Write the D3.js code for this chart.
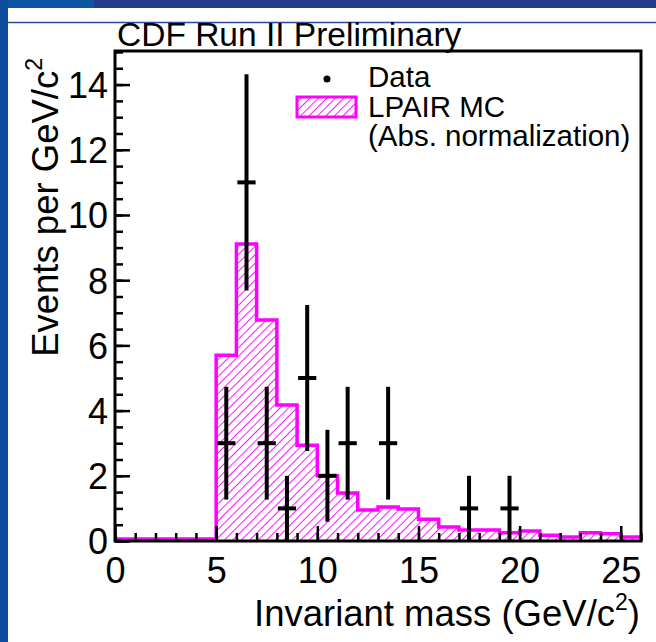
<!DOCTYPE html>
<html>
<head>
<meta charset="utf-8">
<script src="https://cdn.jsdelivr.net/npm/d3@7"></script>
<style>
	body { margin: 0; background: #ffffff; }
	svg text { font-family: "Liberation Sans", Arial, sans-serif; fill: #000; }
</style>
</head>
<body>
<div id="svg-container"></div>
<script>
// LPAIR MC histogram, 1 GeV bins from 0 to 26
var binEdges = d3.range(0, 27, 1);
var mcValues = [0.06, 0.06, 0.06, 0.06, 0.06, 5.7, 9.11, 6.78, 4.17, 2.94, 2.0, 1.47, 0.95, 1.04, 0.98,
	0.67, 0.43, 0.34, 0.34, 0.25, 0.31, 0.18, 0.12, 0.25, 0.22, 0.12];

// data points (bin centres) with errors
var dataMass = [5.5, 6.5, 7.5, 8.5, 9.5, 10.5, 11.5, 13.5, 17.5, 19.5];
var dataEvents = [3, 11, 3, 1, 5, 2, 3, 3, 1, 1];
var dataErr = [1.73, 3.32, 1.73, 1.0, 2.24, 1.41, 1.73, 1.73, 1.0, 1.0];

var xTicks = [0, 5, 10, 15, 20, 25];
var yTicks = [0, 2, 4, 6, 8, 10, 12, 14];

var W = 656, H = 642;
// plot area (window.top is reserved, so no plain "top")
var pL = 115, pR = 641, pT = 51, pB = 541;
var magenta = "#ff00ff";

var svg = d3.select("#svg-container").append("svg")
	.attr("width", W)
	.attr("height", H);

// slide background bits
svg.append("rect").attr("x", 0).attr("y", 0).attr("width", W).attr("height", 8).attr("fill", "#253c8e");
svg.append("rect").attr("x", 0).attr("y", 0).attr("width", 94).attr("height", 8).attr("fill", "#0b55a3");
svg.append("rect").attr("x", 0).attr("y", 0).attr("width", 8).attr("height", H).attr("fill", "#0d4c9c");
svg.append("line").attr("x1", 8).attr("x2", W).attr("y1", 22.5).attr("y2", 22.5)
	.attr("stroke", "#2a4a9a").attr("stroke-width", 1.5);

var defs = svg.append("defs");
var pat = defs.append("pattern")
	.attr("id", "hatch")
	.attr("patternUnits", "userSpaceOnUse")
	.attr("width", 6).attr("height", 6)
	.attr("patternTransform", "rotate(45)");
pat.append("rect").attr("width", 6).attr("height", 6).attr("fill", "#fff");
pat.append("line").attr("x1", 0).attr("y1", 0).attr("x2", 0).attr("y2", 6)
	.attr("stroke", magenta).attr("stroke-width", 1.8);

defs.append("clipPath").attr("id", "plotclip")
	.append("rect").attr("x", pL).attr("y", pT).attr("width", pR - pL).attr("height", pB - pT);

var x = d3.scaleLinear().domain([0, 26]).range([pL, pR]);
var y = d3.scaleLinear().domain([0, 15.03]).range([pB, pT]);

// histogram as step area
var pts = mcValues.map(function(v, i){ return [binEdges[i], v]; });
pts.push([binEdges[binEdges.length - 1], mcValues[mcValues.length - 1]]);

var area = d3.area()
	.curve(d3.curveStepAfter)
	.x(function(d){ return x(d[0]); })
	.y0(y(0))
	.y1(function(d){ return y(d[1]); });
var line = d3.line()
	.curve(d3.curveStepAfter)
	.x(function(d){ return x(d[0]); })
	.y(function(d){ return y(d[1]); });

var plot = svg.append("g").attr("clip-path", "url(#plotclip)");
plot.append("path").datum(pts).attr("d", area).attr("fill", "url(#hatch)");
plot.append("path").datum(pts).attr("d", line)
	.attr("fill", "none").attr("stroke", magenta).attr("stroke-width", 3.5);

// axes: minor then major ticks, inward
function yAxis(vals, size, labels) {
	var ax = d3.axisLeft(y).tickValues(vals).tickSizeInner(-size).tickSizeOuter(0).tickPadding(size + 8);
	if (!labels) ax.tickFormat("");
	var g = svg.append("g").attr("transform", "translate(" + pL + ",0)").call(ax);
	g.select(".domain").remove();
	g.selectAll("line").attr("stroke", "#000").attr("stroke-width", 2.5);
	g.selectAll("text").style("font-size", "36px").attr("font-family", null);
	return g;
}
function xAxis(vals, size, labels) {
	var ax = d3.axisBottom(x).tickValues(vals).tickSizeInner(-size).tickSizeOuter(0).tickPadding(size + 2);
	if (!labels) ax.tickFormat("");
	var g = svg.append("g").attr("transform", "translate(0," + pB + ")").call(ax);
	g.select(".domain").remove();
	g.selectAll("line").attr("stroke", "#000").attr("stroke-width", 2.5);
	g.selectAll("text").style("font-size", "36px").attr("font-family", null);
	return g;
}
yAxis(d3.range(0, 15.01, 0.5), 8, false);
var ya = yAxis(yTicks, 15, true);
ya.selectAll("text").attr("x", -7).attr("dy", "0.36em");
xAxis(d3.range(0, 26.01, 1), 8, false);
var xa = xAxis(xTicks, 15, true);
xa.selectAll("text").attr("y", 16).attr("dy", "0.71em");

// data error bars
var dg = svg.append("g");
dataMass.forEach(function(m, i){
	dg.append("line")
		.attr("x1", x(m)).attr("x2", x(m))
		.attr("y1", y(Math.max(0, dataEvents[i] - dataErr[i]))).attr("y2", y(dataEvents[i] + dataErr[i]))
		.attr("stroke", "#000").attr("stroke-width", 4);
	dg.append("line")
		.attr("x1", x(m - 0.5) + 1).attr("x2", x(m + 0.5) - 1)
		.attr("y1", y(dataEvents[i])).attr("y2", y(dataEvents[i]))
		.attr("stroke", "#000").attr("stroke-width", 4);
});

// frame
svg.append("rect")
	.attr("x", pL).attr("y", pT)
	.attr("width", pR - pL).attr("height", pB - pT)
	.attr("fill", "none").attr("stroke", "#000").attr("stroke-width", 3);

// titles
svg.append("text").attr("x", 117).attr("y", 46).style("font-size", "33.5px").text("CDF Run II Preliminary");

var xt = svg.append("text").attr("x", 640).attr("y", 626).attr("text-anchor", "end").style("font-size", "36.5px");
xt.append("tspan").text("Invariant mass (GeV/c");
xt.append("tspan").attr("dy", -16).style("font-size", "23px").text("2");
xt.append("tspan").attr("dy", 16).text(")");

var yt = svg.append("text").attr("transform", "translate(58,58) rotate(-90)")
	.attr("text-anchor", "end").style("font-size", "36.5px");
yt.append("tspan").text("Events per GeV/c");
yt.append("tspan").attr("dy", -16).style("font-size", "23px").text("2");

// legend
svg.append("circle").attr("cx", 327).attr("cy", 79).attr("r", 3.5).attr("fill", "#000");
svg.append("text").attr("x", 368).attr("y", 87).style("font-size", "29.5px").text("Data");
svg.append("rect").attr("x", 297).attr("y", 97).attr("width", 59).attr("height", 20)
	.attr("fill", "url(#hatch)").attr("stroke", magenta).attr("stroke-width", 3);
svg.append("text").attr("x", 368).attr("y", 117).style("font-size", "29.5px").text("LPAIR MC");
svg.append("text").attr("x", 368).attr("y", 146).style("font-size", "29.5px").text("(Abs. normalization)");
</script>
</body>
</html>
